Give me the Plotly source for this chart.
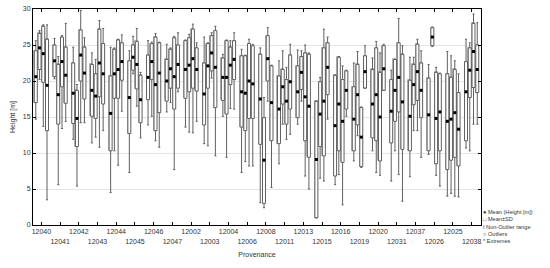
import plotly.graph_objects as go

provenances = ["12040", "12041", "12042", "12043", "12044", "12045", "12046", "12047",
               "12002", "12003", "12004", "12006", "12008", "12011", "12013", "12015",
               "12016", "12019", "12020", "12031", "12037", "12026", "12025", "12038"]

# four boxes per provenance, values in m
mean = [20.6, 24.6, 23.8, 19.4,  22.8, 18.1, 22.7, 20.8,  18.3, 14.8, 23.6, 21.1,
        18.7, 17.9, 22.5, 21.0,  15.5, 21.0, 21.6, 22.7,  17.7, 23.3, 22.3, 17.4,
        20.5, 22.7, 19.5, 21.1,  20.0, 21.7, 20.6, 22.3,  21.6, 22.2, 23.1, 21.6,
        18.2, 22.1, 23.9, 21.9,  20.5, 20.5, 22.2, 23.0,  18.5, 18.3, 20.0, 19.6,
        17.5, 9.0, 23.1, 17.0,   16.1, 19.2, 17.2, 19.9,  18.5, 21.2, 17.8, 16.5,
        9.1, 15.4, 17.2, 21.9,   13.8, 16.8, 14.4, 18.7,  14.7, 18.1, 12.2, 21.3,
        16.8, 18.1, 15.0, 21.7,  15.8, 18.7, 20.5, 17.1,  15.1, 19.5, 21.3, 18.7,
        15.3, 26.1, 14.8, 15.7,  14.4, 14.7, 15.6, 13.3,  18.5, 21.5, 24.1, 21.6]
sd_low = [17.0, 21.6, 19.8, 13.1,  20.6, 14.0, 19.2, 16.9,  14.1, 10.9, 20.0, 17.5,
          15.1, 14.8, 17.8, 16.8,  10.3, 17.6, 17.6, 20.1,  12.7, 21.5, 18.9, 14.2,
          17.4, 20.2, 13.1, 15.6,  17.2, 19.0, 16.1, 19.0,  17.6, 18.5, 19.0, 18.6,
          13.9, 19.0, 21.4, 16.3,  17.3, 15.4, 19.5, 20.2,  13.6, 13.1, 14.8, 14.8,
          11.2, 3.0, 20.0, 11.7,   11.3, 16.8, 14.0, 16.1,  14.9, 18.8, 11.7, 9.4,
          1.0, 10.9, 9.6, 18.1,    6.8, 10.3, 8.7, 16.1,    10.3, 13.9, 8.1, 19.0,
          12.1, 11.7, 8.9, 18.7,   11.4, 14.4, 15.7, 10.5,  10.3, 16.7, 17.3, 14.9,
          10.3, 24.9, 8.5, 10.3,   7.7, 9.0, 9.4, 8.2,      11.7, 17.7, 19.1, 18.4]
sd_high = [24.2, 26.6, 27.6, 25.8,  25.0, 22.3, 26.1, 24.7,  22.5, 18.7, 27.1, 24.7,
           22.3, 21.0, 27.2, 25.2,  20.7, 24.4, 25.7, 25.3,  22.8, 25.0, 25.5, 20.8,
           23.6, 25.2, 26.1, 25.3,  23.0, 24.4, 26.0, 25.0,  25.6, 26.0, 27.2, 24.6,
           22.5, 25.2, 26.3, 27.0,  23.2, 25.6, 24.7, 25.6,  23.5, 23.5, 25.2, 24.9,
           23.7, 14.9, 26.3, 22.1,  20.7, 21.6, 20.2, 23.6,  22.1, 23.4, 23.9, 23.7,
           17.2, 19.9, 24.6, 25.3,  20.8, 23.3, 20.2, 21.4,  19.2, 22.3, 16.3, 23.5,
           21.6, 24.6, 21.2, 24.9,  20.2, 23.0, 25.3, 23.7,  20.1, 22.3, 25.1, 22.5,
           20.4, 27.4, 21.2, 21.0,  21.0, 20.5, 21.6, 18.4,  22.7, 24.6, 28.0, 25.0]
h_min = [14.7, 20.2, 13.7, 3.5,  20.3, 5.6, 13.4, 14.4,  11.9, 5.4, 14.2, 14.2,
         11.4, 12.2, 10.8, 13.1,  4.5, 10.3, 8.3, 15.8,  7.3, 21.0, 16.5, 12.1,
         13.9, 15.1, 11.7, 10.8,  15.7, 17.0, 7.7, 18.5,  13.6, 12.9, 12.8, 14.4,
         11.3, 11.0, 20.4, 9.6,   15.1, 9.4, 16.2, 16.1,  7.3, 8.8, 8.2, 8.2,
         3.1, 2.4, 17.2, 5.2,     8.5, 14.0, 11.9, 12.6,  14.0, 17.2, 6.8, 5.0,
         1.0, 6.5, 6.1, 14.7,     5.6, 7.0, 2.8, 15.1,    8.9, 12.4, 8.0, 19.0,
         10.3, 7.3, 6.9, 18.7,    6.1, 10.3, 7.0, 3.3,    6.7, 13.1, 13.1, 9.4,
         9.8, 24.8, 6.9, 5.4,     4.0, 4.4, 4.0, 3.9,     10.7, 10.3, 14.0, 14.0]
h_max = [25.6, 27.0, 27.8, 27.8,  25.9, 23.4, 26.3, 28.0,  24.7, 19.5, 29.8, 26.0,
         23.9, 23.0, 28.4, 27.3,  24.7, 24.6, 25.8, 26.4,  24.2, 26.2, 27.3, 21.2,
         25.6, 25.4, 26.6, 25.4,  25.1, 24.6, 26.2, 26.7,  25.7, 26.5, 27.9, 25.3,
         26.1, 25.3, 26.7, 27.6,  23.7, 25.7, 25.6, 26.7,  24.4, 23.6, 25.8, 25.1,
         24.6, 17.7, 27.4, 22.2,  22.8, 24.2, 21.9, 25.1,  24.3, 24.2, 25.0, 23.9,
         17.2, 20.5, 27.2, 26.1,  20.8, 23.4, 22.1, 21.5,  22.5, 24.1, 16.4, 24.9,
         23.2, 25.5, 23.9, 25.1,  21.5, 23.0, 28.7, 24.9,  23.3, 23.3, 25.8, 24.2,
         22.3, 27.5, 21.9, 21.1,  24.1, 23.5, 22.8, 21.0,  25.8, 25.3, 29.3, 28.1]

offsets = [-0.3, -0.1, 0.1, 0.3]
xpos = [i + o for i in range(len(provenances)) for o in offsets]
bw = 0.16

fig = go.Figure()

# whiskers (non-outlier range)
fig.add_trace(go.Box(
    x=xpos, q1=sd_low, median=mean, q3=sd_high,
    lowerfence=h_min, upperfence=h_max,
    width=bw, whiskerwidth=0.7,
    line=dict(color="#606060", width=1), fillcolor="white",
    hoverinfo="skip", showlegend=False,
))

# mean +- SD boxes
fig.add_trace(go.Bar(
    x=xpos, base=sd_low, y=[h - l for h, l in zip(sd_high, sd_low)],
    width=bw, marker=dict(color="white", line=dict(color="#b4b4b4", width=1)),
    hoverinfo="skip", showlegend=False,
))

# means
fig.add_trace(go.Scatter(
    x=xpos, y=mean, mode="markers",
    marker=dict(symbol="square", size=3, color="black"),
    hoverinfo="skip", showlegend=False,
))

ticktext = [p if i % 2 == 0 else "<br>" + p for i, p in enumerate(provenances)]

fig.update_layout(
    width=550, height=268,
    margin=dict(l=33, r=69, t=9, b=43),
    plot_bgcolor="white", paper_bgcolor="white",
    font=dict(family="Liberation Sans, Arial, sans-serif", size=7, color="#333333"),
    barmode="overlay", bargap=0,
    showlegend=False,
)
fig.update_xaxes(
    range=[-0.45, 23.5], tickvals=list(range(len(provenances))), ticktext=ticktext,
    tickangle=0, automargin=False,
    showline=True, linecolor="black", linewidth=1, mirror="allticks",
    ticks="inside", ticklen=3, tickcolor="black", showgrid=False, zeroline=False,
    title=dict(text="Provenance", font=dict(size=7), standoff=8),
)
fig.update_yaxes(
    range=[0, 30], dtick=5, automargin=False, ticklabeloverflow="allow",
    showline=True, linecolor="black", linewidth=1, mirror="allticks",
    ticks="inside", ticklen=3, tickcolor="black",
    showgrid=True, gridcolor="#e4e4e4", gridwidth=1, zeroline=False,
    title=dict(text="Height [m]", font=dict(size=7), standoff=6),
)

fig.add_annotation(
    xref="paper", yref="paper", x=1.0, y=0.085, xanchor="left", yanchor="top",
    align="left", showarrow=False, font=dict(size=5.6, color="#333333"),
    text="● Mean (Height [m])<br>□ Mean±SD<br>I Non-Outlier range<br>○ Outliers<br>* Extremes",
)

# drop the browser's default 8px page margin so the figure sits at the window corner
fig.write_html("out.html", config={"displayModeBar": False},
               post_script="document.body.style.margin='0';")
